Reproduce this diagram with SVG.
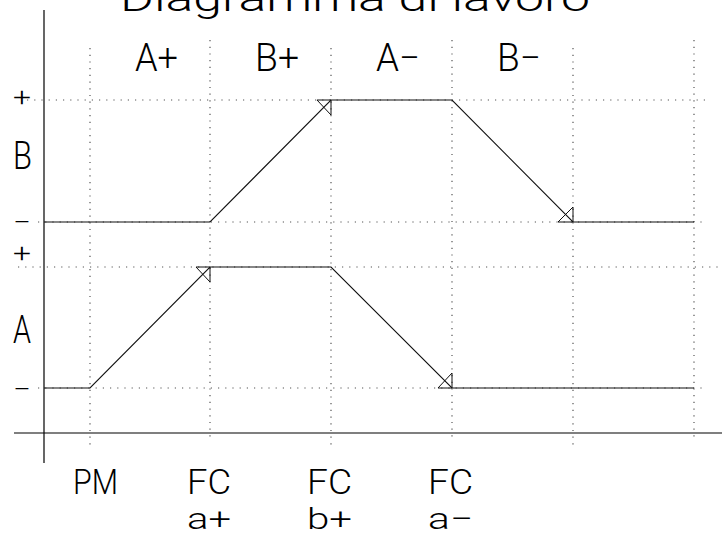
<svg xmlns="http://www.w3.org/2000/svg" width="722" height="534" viewBox="0 0 722 534">
<style>
.t{font-family:Roboto,"Noto Sans","Liberation Sans",sans-serif;font-weight:300;fill:#000}
.grid line{stroke:#555;stroke-width:1.2;stroke-linecap:butt}
.gv{stroke-dasharray:1.2 5.5}
.gh{stroke-dasharray:1.2 6}
.ax{stroke:#000;stroke-width:1.2;fill:none}
.sig{stroke:#111;stroke-width:1.1;fill:none;stroke-linejoin:miter}
.sw{stroke:#111;stroke-width:1;fill:none}
</style>
<rect width="722" height="534" fill="#fff"/>
<g id="grid" class="grid">
<line class="gh" x1="27" y1="100" x2="705" y2="100"/>
<line class="gh" x1="38" y1="222" x2="705" y2="222"/>
<line class="gh" x1="18" y1="267" x2="720" y2="267"/>
<line class="gh" x1="38" y1="388" x2="705" y2="388"/>
<line class="gv" x1="90" y1="48" x2="90" y2="448"/>
<line class="gv" x1="210" y1="40" x2="210" y2="442"/>
<line class="gv" x1="331" y1="48" x2="331" y2="448"/>
<line class="gv" x1="452" y1="40" x2="452" y2="442"/>
<line class="gv" x1="573" y1="48" x2="573" y2="448"/>
<line class="gv" x1="694" y1="40" x2="694" y2="440"/>
</g>
<g id="axes" class="ax">
<line x1="44" y1="10" x2="44" y2="463"/>
<line x1="14" y1="433" x2="722" y2="433"/>
</g>
<g id="connectors">
<polyline id="signal-B" class="sig" points="44,222 210,222 331,100 452,100 573,222 694,222"/>
<polyline id="signal-A" class="sig" points="44,388 90,388 210,267 331,267 452,388 694,388"/>
<path id="fc-bplus" class="sw" d="M317,100 L331,100 L331,115 Z"/>
<path id="fc-bminus" class="sw" d="M558,222 L573,222 L573,207 Z"/>
<path id="fc-aplus" class="sw" d="M196,267 L210,267 L210,282 Z"/>
<path id="fc-aminus" class="sw" d="M438,388 L452,388 L452,373 Z"/>
</g>
<g id="title"><text class="t" x="120" y="11" font-size="37" textLength="470" lengthAdjust="spacingAndGlyphs">Diagramma di lavoro</text></g>
<g id="phases">
<text class="t" x="135" y="71" font-size="38" textLength="43" lengthAdjust="spacingAndGlyphs">A+</text>
<text class="t" x="255" y="71" font-size="38" textLength="44" lengthAdjust="spacingAndGlyphs">B+</text>
<text class="t" x="376" y="71" font-size="38" textLength="44" lengthAdjust="spacingAndGlyphs">A−</text>
<text class="t" x="497" y="71" font-size="38" textLength="44" lengthAdjust="spacingAndGlyphs">B−</text>
</g>
<g id="y-labels">
<text class="t" x="13" y="106" font-size="26" textLength="18" lengthAdjust="spacingAndGlyphs">+</text>
<text class="t" x="13" y="169" font-size="38" textLength="19" lengthAdjust="spacingAndGlyphs">B</text>
<text class="t" x="13" y="231" font-size="26" textLength="18" lengthAdjust="spacingAndGlyphs">−</text>
<text class="t" x="13" y="262" font-size="26" textLength="18" lengthAdjust="spacingAndGlyphs">+</text>
<text class="t" x="13" y="343" font-size="38" textLength="18" lengthAdjust="spacingAndGlyphs">A</text>
<text class="t" x="13" y="398" font-size="26" textLength="18" lengthAdjust="spacingAndGlyphs">−</text>
</g>
<g id="x-labels">
<text class="t" x="73" y="494" font-size="35" textLength="45" lengthAdjust="spacingAndGlyphs">PM</text>
<text class="t" x="187" y="494" font-size="35" textLength="44" lengthAdjust="spacingAndGlyphs">FC</text>
<text class="t" x="307" y="494" font-size="35" textLength="45" lengthAdjust="spacingAndGlyphs">FC</text>
<text class="t" x="428" y="494" font-size="35" textLength="45" lengthAdjust="spacingAndGlyphs">FC</text>
<text class="t" x="187" y="529" font-size="30" textLength="44" lengthAdjust="spacingAndGlyphs">a+</text>
<text class="t" x="307" y="529" font-size="30" textLength="45" lengthAdjust="spacingAndGlyphs">b+</text>
<text class="t" x="428" y="529" font-size="30" textLength="45" lengthAdjust="spacingAndGlyphs">a−</text>
</g>
</svg>
